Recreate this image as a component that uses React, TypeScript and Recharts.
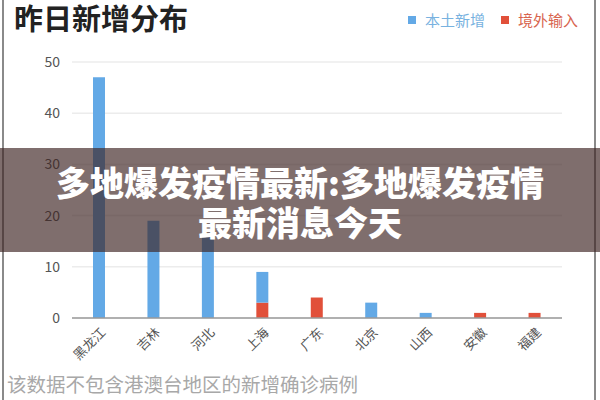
import React from 'react';
import { BarChart, Bar, XAxis, YAxis, CartesianGrid } from 'recharts';

const provinces = ['黑龙江', '吉林', '河北', '上海', '广东', '北京', '山西', '安徽', '福建'];
const localCases = [47, 19, 16, 6, 0, 3, 1, 0, 0];
const importedCases = [0, 0, 0, 3, 4, 0, 0, 1, 1];
const yTicks = [0, 10, 20, 30, 40, 50];

const data = provinces.map((p, i) => ({ name: p, local: localCases[i], imported: importedCases[i] }));

const FONT = '"Noto Sans CJK SC", "Noto Sans", sans-serif';
const BLUE = '#63a9e6';
const RED = '#e1503a';

const XTick = (props: any) => {
  const { x, y, payload } = props;
  return (
    <g transform={`translate(${x + 4},${y + 4})`}>
      <text x={0} y={0} dy="0.35em" textAnchor="end" transform="rotate(-45)" fontSize={13} fill="#555" fontFamily={FONT}>
        {payload.value}
      </text>
    </g>
  );
};

export default function App() {
  return (
    <div style={{ position: 'absolute', left: 0, top: 0, width: 600, height: 400, background: '#fff', overflow: 'hidden', fontFamily: FONT }}>
      <div style={{ position: 'absolute', left: 2, top: 0, width: 594, height: 400, borderLeft: '2px solid #8a8a8a', borderRight: '2px solid #8a8a8a', boxSizing: 'border-box' }} />
      <div style={{ position: 'absolute', left: 14, top: 0, fontSize: 29, fontWeight: 700, color: '#222', lineHeight: '34px', whiteSpace: 'nowrap' }}>昨日新增分布</div>
      <div style={{ position: 'absolute', left: 408, top: 8, display: 'flex', alignItems: 'center', fontSize: 15, lineHeight: '24px' }}>
        <span style={{ display: 'inline-block', width: 8, height: 8, background: BLUE, marginRight: 9 }} />
        <span style={{ color: '#78b2e0' }}>本土新增</span>
        <span style={{ display: 'inline-block', width: 8, height: 8, background: RED, marginLeft: 16, marginRight: 9 }} />
        <span style={{ color: '#d8644e' }}>境外输入</span>
      </div>
      <div style={{ position: 'absolute', left: 0, top: 0 }}>
        <BarChart width={600} height={400} data={data} margin={{ top: 62, right: 38, left: 12, bottom: 32 }} barSize={12}>
          <CartesianGrid vertical={false} stroke="#ececec" strokeWidth={1.5} />
          <XAxis dataKey="name" interval={0} height={50} tick={<XTick />} tickLine={false} axisLine={{ stroke: '#9a9a9a', strokeWidth: 1.5 }} />
          <YAxis width={60} domain={[0, 50]} ticks={yTicks} tickLine={false} axisLine={false} tickMargin={6} tick={{ fontSize: 14, fill: '#555', fontFamily: FONT }} />
          <Bar dataKey="imported" stackId="a" fill={RED} isAnimationActive={false} />
          <Bar dataKey="local" stackId="a" fill={BLUE} isAnimationActive={false} />
        </BarChart>
      </div>
      <div style={{ position: 'absolute', left: 7, top: 371, fontSize: 19.5, color: '#a8a8a8', lineHeight: '26px', whiteSpace: 'nowrap' }}>该数据不包含港澳台地区的新增确诊病例</div>
      <div style={{ position: 'absolute', left: 0, top: 148, width: 600, height: 104, background: 'rgba(60,35,33,0.66)', color: '#fff', textAlign: 'center', fontSize: 34, fontWeight: 900, paddingTop: 15, boxSizing: 'border-box' }}>
        <div style={{ lineHeight: '38px', height: 38, whiteSpace: 'nowrap' }}>多地爆发疫情最新:多地爆发疫情</div>
        <div style={{ lineHeight: '38px', height: 38, marginTop: 2, whiteSpace: 'nowrap' }}>最新消息今天</div>
      </div>
    </div>
  );
}
